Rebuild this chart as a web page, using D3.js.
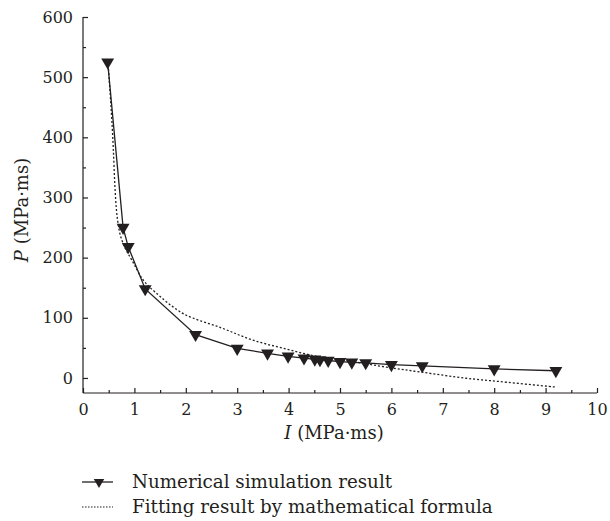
<!DOCTYPE html>
<html>
<head>
<meta charset="utf-8">
<script src="https://cdn.jsdelivr.net/npm/d3@7"></script>
<style>
  body { margin: 0; background: #fff; }
  svg { display: block; font-family: "DejaVu Serif", "Liberation Serif", serif; }
</style>
</head>
<body>
<svg id="chart" width="610" height="521"></svg>
<script>
// numerical simulation points
const simI = [0.48, 0.78, 0.88, 1.21, 2.19, 3.0, 3.59, 3.99, 4.30, 4.51, 4.61, 4.77, 5.0, 5.23, 5.5, 6.0, 6.6, 8.0, 9.2];
const simP = [525, 250, 218, 148, 72, 49, 41, 36, 33, 31, 30, 29, 27, 26, 25, 22, 20, 15, 12];

// fitted curve
const fitI = [0.49, 0.53, 0.56, 0.59, 0.62, 0.65, 0.68, 0.73, 0.83, 0.95, 1.17, 1.4, 1.95, 2.7, 3.3, 3.96, 4.6, 5.26, 5.9, 6.56, 7.46, 8.11, 9.18];
const fitP = [520, 470, 430, 380, 320, 280, 258, 236, 214, 196, 163, 143, 107, 83, 63, 48, 35, 27, 18, 10, -0.5, -6, -15];

const xTicks = [0, 1, 2, 3, 4, 5, 6, 7, 8, 9, 10];
const yTicks = [0, 100, 200, 300, 400, 500, 600];
const legendLabels = ["Numerical simulation result", "Fitting result by mathematical formula"];

const ink = "#231f20";
const svg = d3.select("#chart");
const margin = { top: 17, right: 13, bottom: 128, left: 83 };
const W = 610, H = 521;

const x = d3.scaleLinear().domain([0, 10]).range([margin.left, W - margin.right]);
const y = d3.scaleLinear().domain([-25, 600]).range([H - margin.bottom, margin.top]);

const sim = simI.map((v, i) => ({ I: v, P: simP[i] }));
const fit = fitI.map((v, i) => ({ I: v, P: fitP[i] }));

// minor ticks
svg.append("g")
  .attr("transform", `translate(0,${y(-25)})`)
  .call(d3.axisBottom(x).tickValues(d3.range(0.5, 10, 1)).tickSize(-3).tickSizeOuter(0).tickFormat(""));
svg.append("g")
  .attr("transform", `translate(${x(0)},0)`)
  .call(d3.axisLeft(y).tickValues(d3.range(50, 600, 100)).tickSize(-3).tickSizeOuter(0).tickFormat(""));

// major axes
svg.append("g")
  .attr("transform", `translate(0,${y(-25)})`)
  .call(d3.axisBottom(x).tickValues(xTicks).tickSize(-5).tickSizeOuter(0).tickPadding(11));
svg.append("g")
  .attr("transform", `translate(${x(0)},0)`)
  .call(d3.axisLeft(y).tickValues(yTicks).tickSize(-5).tickSizeOuter(0).tickPadding(10));

svg.selectAll(".domain").remove();
svg.append("line")
  .attr("x1", x(0)).attr("x2", x(10)).attr("y1", y(-25)).attr("y2", y(-25))
  .attr("stroke", ink).attr("stroke-width", 1.2);
svg.append("line")
  .attr("x1", x(0)).attr("x2", x(0)).attr("y1", y(-25)).attr("y2", y(600))
  .attr("stroke", ink).attr("stroke-width", 1.2);

svg.selectAll(".tick line").attr("stroke", ink).attr("stroke-width", 1.2);
svg.selectAll(".tick text")
  .attr("fill", ink)
  .style("font-family", "DejaVu Serif, Liberation Serif, serif")
  .style("font-size", "16px");

// axis titles
const xt = svg.append("text")
  .attr("x", 334)
  .attr("y", 439)
  .attr("text-anchor", "middle")
  .attr("fill", ink)
  .style("font-size", "18px");
xt.append("tspan").style("font-style", "italic").text("I");
xt.append("tspan").text(" (MPa·ms)");

const yt = svg.append("text")
  .attr("transform", "translate(28,210) rotate(-90)")
  .attr("text-anchor", "middle")
  .attr("fill", ink)
  .style("font-size", "18px");
yt.append("tspan").style("font-style", "italic").text("P");
yt.append("tspan").text(" (MPa·ms)");

// fitted curve (dotted)
svg.append("path")
  .datum(fit)
  .attr("fill", "none")
  .attr("stroke", ink)
  .attr("stroke-width", 1.3)
  .attr("stroke-dasharray", "2,2")
  .attr("d", d3.line().x(d => x(d.I)).y(d => y(d.P)).curve(d3.curveCatmullRom));

// simulation line + markers
svg.append("path")
  .datum(sim)
  .attr("fill", "none")
  .attr("stroke", ink)
  .attr("stroke-width", 1.3)
  .attr("d", d3.line().x(d => x(d.I)).y(d => y(d.P)));

const tri = d3.symbol().type(d3.symbolTriangle).size(72);
svg.append("g").selectAll("path")
  .data(sim)
  .enter()
  .append("path")
  .attr("d", tri)
  .attr("fill", ink)
  .attr("transform", d => `translate(${x(d.I)},${y(d.P)}) rotate(180)`);

// legend
const lg = svg.append("g");
lg.append("line")
  .attr("x1", 82).attr("x2", 113).attr("y1", 482).attr("y2", 482)
  .attr("stroke", ink).attr("stroke-width", 1.3);
lg.append("path")
  .attr("d", d3.symbol().type(d3.symbolTriangle).size(48))
  .attr("fill", ink)
  .attr("transform", "translate(99,482) rotate(180)");
lg.append("line")
  .attr("x1", 82).attr("x2", 113).attr("y1", 507).attr("y2", 507)
  .attr("stroke", ink).attr("stroke-width", 1.2).attr("stroke-dasharray", "1.5,1.5");

lg.selectAll("text")
  .data(legendLabels)
  .enter()
  .append("text")
  .attr("x", 132)
  .attr("y", (d, i) => 488 + i * 25)
  .attr("fill", ink)
  .style("font-size", "18.3px")
  .text(d => d);
</script>
</body>
</html>
